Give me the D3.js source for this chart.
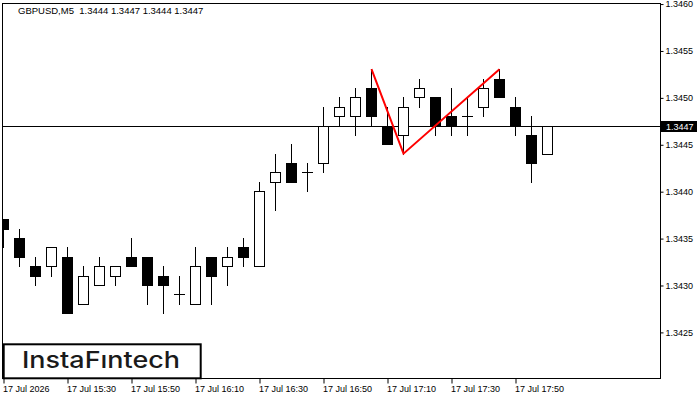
<!DOCTYPE html>
<html>
<head>
<meta charset="utf-8">
<script src="https://cdn.jsdelivr.net/npm/d3@7"></script>
<style>
  body { margin: 0; background: #fff; }
  svg { display: block; }
  text { font-family: "Liberation Sans", Arial, sans-serif; }
</style>
</head>
<body>
<script>
// Data: GBPUSD M5, 17 Jul 2026, 15:10 .. 18:00

const times = [
  "15:10", "15:15", "15:20", "15:25", "15:30", "15:35", "15:40", "15:45", "15:50", "15:55",
  "16:00", "16:05", "16:10", "16:15", "16:20", "16:25", "16:30", "16:35", "16:40", "16:45",
  "16:50", "16:55", "17:00", "17:05", "17:10", "17:15", "17:20", "17:25", "17:30", "17:35",
  "17:40", "17:45", "17:50", "17:55", "18:00"
]
const open = [
  1.3437, 1.3435, 1.3432, 1.3432, 1.3433, 1.3428, 1.3430, 1.3431, 1.3433, 1.3433,
  1.3431, 1.3429, 1.3428, 1.3433, 1.3432, 1.3434, 1.3432, 1.3441, 1.3443, 1.3442,
  1.3443, 1.3448, 1.3448, 1.3451, 1.3447, 1.3446, 1.3450, 1.3450, 1.3448, 1.3448,
  1.3449, 1.3452, 1.3449, 1.3446, 1.3444
]
const high = [
  1.3437, 1.3436, 1.3433, 1.3434, 1.3434, 1.3432, 1.3433, 1.3432, 1.3435, 1.3433,
  1.3432, 1.3431, 1.3434, 1.3433, 1.3434, 1.3435, 1.3441, 1.3444, 1.3445, 1.3443,
  1.3449, 1.3450, 1.3451, 1.3453, 1.3449, 1.3450, 1.3452, 1.3450, 1.3451, 1.3450,
  1.3452, 1.3453, 1.3450, 1.3448, 1.3447
]
const low = [
  1.3434, 1.3432, 1.3430, 1.3431, 1.3427, 1.3428, 1.3430, 1.3430, 1.3432, 1.3428,
  1.3427, 1.3428, 1.3428, 1.3428, 1.3430, 1.3432, 1.3432, 1.3438, 1.3441, 1.3440,
  1.3442, 1.3447, 1.3446, 1.3447, 1.3445, 1.3444, 1.3449, 1.3446, 1.3446, 1.3446,
  1.3448, 1.3450, 1.3446, 1.3441, 1.3444
]
const close = [
  1.3436, 1.3433, 1.3431, 1.3434, 1.3427, 1.3431, 1.3432, 1.3432, 1.3432, 1.3430,
  1.3430, 1.3429, 1.3432, 1.3431, 1.3433, 1.3433, 1.3440, 1.3442, 1.3441, 1.3442,
  1.3447, 1.3449, 1.3450, 1.3448, 1.3445, 1.3449, 1.3451, 1.3447, 1.3447, 1.3448,
  1.3451, 1.3450, 1.3447, 1.3443, 1.3447
]

// Double top pattern: peak, trough, peak
const patternTimes = ["17:05", "17:15", "17:45"]
const patternPrices = [1.3453, 1.3444, 1.3453]

const yTicks = [1.3425, 1.3430, 1.3435, 1.3440, 1.3445, 1.3450, 1.3455, 1.3460]
const xTicks = ["15:10", "15:30", "15:50", "16:10", "16:30", "16:50", "17:10", "17:30", "17:50"]
const lastPrice = 1.3447
const title = "GBPUSD,M5  1.3444 1.3447 1.3444 1.3447"

// Dimensions
const width = 700
const height = 400
const plot = { left: 2, top: 3, right: 660, bottom: 378 }

const parseTime = d3.timeParse("%Y-%m-%d %H:%M")
const t = s => parseTime("2026-07-17 " + s)

const candles = times.map((d, i) => ({
  time: t(d),
  open: open[i],
  high: high[i],
  low: low[i],
  close: close[i],
}))

const svg = d3
  .select("body")
  .append("svg")
  .attr("width", width)
  .attr("height", height)

// Scales
const x = d3
  .scaleTime()
  .domain([t(times[0]), t(times.at(-1))])
  .range([3, 3 + 16 * (times.length - 1)])

const y = d3
  .scaleLinear()
  .domain([1.3425, 1.3460])
  .range([331.9, 3.56])

const px = v => Math.round(v) + 0.5

svg
  .append("clipPath")
  .attr("id", "clip")
  .append("rect")
  .attr("x", plot.left)
  .attr("y", plot.top)
  .attr("width", plot.right - plot.left)
  .attr("height", plot.bottom - plot.top)

const g = svg.append("g").attr("clip-path", "url(#clip)")

// Current price line
g.append("line")
  .attr("x1", plot.left)
  .attr("x2", plot.right)
  .attr("y1", px(y(lastPrice)))
  .attr("y2", px(y(lastPrice)))
  .attr("stroke", "#000")

// Candles
const candle = g
  .append("g")
  .selectAll("g")
  .data(candles)
  .join("g")

candle
  .append("line")
  .attr("x1", d => px(x(d.time)))
  .attr("x2", d => px(x(d.time)))
  .attr("y1", d => Math.round(y(d.high)))
  .attr("y2", d => Math.round(y(d.low)) + 1)
  .attr("stroke", "#000")

candle
  .filter(d => d.open !== d.close)
  .append("rect")
  .attr("x", d => px(x(d.time) - 5))
  .attr("y", d => px(y(Math.max(d.open, d.close))))
  .attr("width", 10)
  .attr("height", d => Math.round(y(Math.min(d.open, d.close))) - Math.round(y(Math.max(d.open, d.close))))
  .attr("fill", d => (d.close > d.open ? "#fff" : "#000"))
  .attr("stroke", "#000")

candle
  .filter(d => d.open === d.close)
  .append("line")
  .attr("x1", d => Math.round(x(d.time)) - 5)
  .attr("x2", d => Math.round(x(d.time)) + 6)
  .attr("y1", d => px(y(d.open)))
  .attr("y2", d => px(y(d.open)))
  .attr("stroke", "#000")

// Pattern lines
g.append("path")
  .datum(patternTimes.map((d, i) => [t(d), patternPrices[i]]))
  .attr("d", d3.line().x(d => x(d[0]) + 0.5).y(d => y(d[1])))
  .attr("fill", "none")
  .attr("stroke", "#ff0000")
  .attr("stroke-width", 2)

// Frame
svg
  .append("rect")
  .attr("x", plot.left + 0.5)
  .attr("y", plot.top + 0.5)
  .attr("width", plot.right - plot.left)
  .attr("height", plot.bottom - plot.top)
  .attr("fill", "none")
  .attr("stroke", "#000")

// Y axis
const axisY = svg
  .append("g")
  .attr("transform", `translate(${plot.right + 0.5}, 0.5)`)
  .call(d3.axisRight(y).tickValues(yTicks).tickSize(3).tickFormat(d3.format(".4f")))

axisY.select(".domain").remove()
axisY.selectAll("text").style("font-size", "9px").attr("fill", "#000").attr("x", 5)

// Last price label
svg
  .append("rect")
  .attr("x", plot.right + 1)
  .attr("y", Math.round(y(lastPrice)) - 5)
  .attr("width", 36)
  .attr("height", 11)
  .attr("fill", "#000")

svg
  .append("text")
  .attr("x", plot.right + 6)
  .attr("y", y(lastPrice) + 4)
  .text(d3.format(".4f")(lastPrice))
  .style("font-size", "9px")
  .attr("fill", "#fff")

// X axis
const axisX = svg
  .append("g")
  .attr("transform", `translate(0.5, ${plot.bottom + 0.5})`)
  .call(
    d3
      .axisBottom(x)
      .tickValues(xTicks.map(t))
      .tickSize(5)
      .tickFormat((d, i) => (i === 0 ? "17 Jul 2026" : d3.timeFormat("17 Jul %H:%M")(d)))
  )

axisX.select(".domain").remove()
axisX
  .selectAll("text")
  .attr("text-anchor", "start")
  .attr("x", -1)
  .attr("y", 13.5)
  .attr("dy", 0)
  .style("font-size", "9px")
  .attr("fill", "#000")

// Title
svg
  .append("text")
  .attr("x", 18)
  .attr("y", 14)
  .text(title)
  .style("font-size", "9.5px")
  .style("white-space", "pre")
  .attr("xml:space", "preserve")

// Logo
svg
  .append("rect")
  .attr("x", 3.7)
  .attr("y", 344.3)
  .attr("width", 197)
  .attr("height", 34)
  .attr("fill", "#fff")
  .attr("stroke", "#000")
  .attr("stroke-width", 2)

svg
  .append("text")
  .attr("x", 22)
  .attr("y", 367.5)
  .attr("textLength", 158)
  .attr("lengthAdjust", "spacingAndGlyphs")
  .text("InstaFıntech")
  .style("font-family", "Inter, 'Noto Sans', sans-serif")
  .style("font-size", "23px")
  .style("font-weight", 500)
  .attr("fill", "#1a1a1a")
</script>
</body>
</html>
